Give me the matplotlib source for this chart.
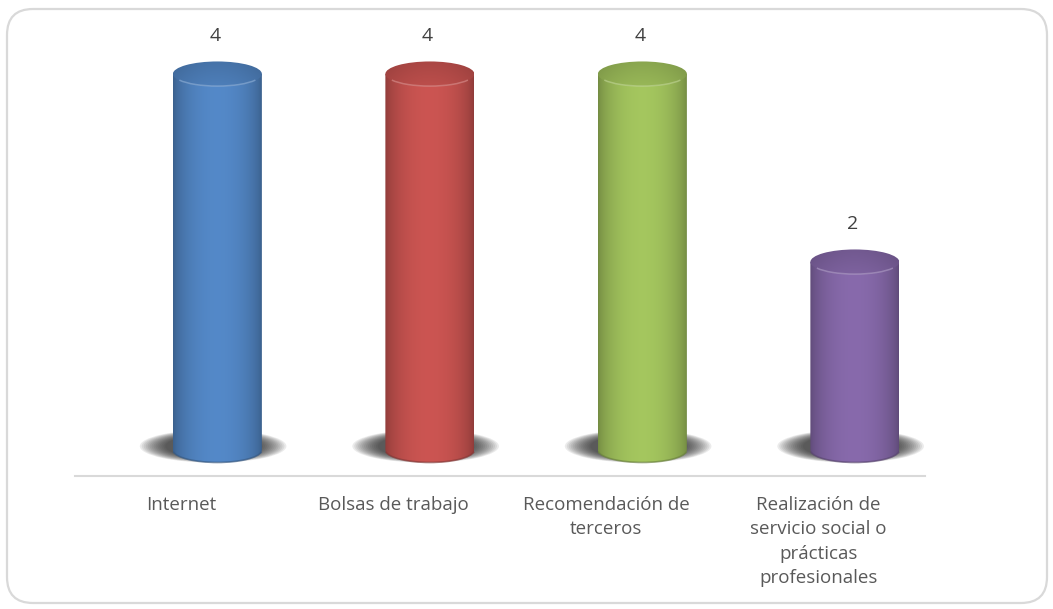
import numpy as np
import matplotlib.pyplot as plt
import matplotlib.colors as mcolors
from matplotlib.patches import Ellipse, PathPatch, FancyBboxPatch, Arc
from matplotlib.path import Path
from matplotlib.transforms import IdentityTransform

# chart data
categories = ["Internet", "Bolsas de trabajo", "Recomendación de\nterceros",
              "Realización de\nservicio social o\nprácticas\nprofesionales"]
values = [4, 4, 4, 2]
colors = ["#4f81bd", "#c0504d", "#9bbb59", "#8064a2"]

plt.rcParams['font.family'] = ['Open Sans', 'DejaVu Sans']

W, H = 1053, 609
fig = plt.figure(figsize=(W / 100, H / 100), dpi=100)
fig.patch.set_facecolor("white")

# rounded frame around the chart (pixel coords), kept behind the axes
frame = FancyBboxPatch((7, 6), 1040, 594, boxstyle="round,pad=0,rounding_size=26",
                       transform=IdentityTransform(), facecolor="none",
                       edgecolor="#d9d9d9", linewidth=1.6, zorder=-1)
fig.patches.append(frame)

ax = fig.add_axes([75 / W, (H - 476) / H, 850 / W, (476 - 20) / H])
ax.set_facecolor("none")
y0 = -0.277
ax.set_xlim(0, 4)
ax.set_ylim(y0, y0 + 456 / 94)

depth = 0.17   # 3d offset of the cylinders to the right of their slot
w = 0.2094     # half width of a cylinder
h = 0.133      # half height of the elliptic caps


def body_image(base, n=200):
    t = np.linspace(0, 1, n)
    rgb = np.array(mcolors.to_rgb(base))
    k = np.clip(1 - ((t - 0.5) / 0.5) ** 2, 0, 1) ** 0.7
    light = 0.74 + 0.32 * k
    cols = np.clip(rgb[None, :] * light[:, None], 0, 1)
    return cols[None, :, :]


def top_image(base, nx=200, ny=60):
    t = np.linspace(0, 1, nx)
    s = np.linspace(0, 1, ny)   # 0 = front (bottom), 1 = back
    rgb = np.array(mcolors.to_rgb(base))
    k = np.clip(1 - ((t - 0.5) / 0.5) ** 2, 0, 1)
    light = (0.86 + 0.1 * k)[None, :] * (1.02 - 0.1 * s)[:, None]
    return np.clip(rgb[None, None, :] * light[:, :, None], 0, 1)


for i, (v, c) in enumerate(zip(values, colors)):
    xc = i + 0.5 + depth

    # soft shadow on the floor
    for j in range(14):
        f = j / 13
        ax.add_patch(Ellipse((xc - 0.02, 0.04), 2 * (0.345 - 0.12 * f), 2 * (0.175 - 0.05 * f),
                             facecolor="#202020", edgecolor="none", alpha=0.085, zorder=1))

    # body: rectangle plus the front half of the bottom ellipse
    ang = np.linspace(np.pi, 2 * np.pi, 60)
    verts = [(xc + w * np.cos(a), h * np.sin(a)) for a in ang]
    verts += [(xc + w, v), (xc - w, v), verts[0]]
    codes = [Path.MOVETO] + [Path.LINETO] * (len(verts) - 2) + [Path.CLOSEPOLY]
    body = PathPatch(Path(verts, codes), facecolor="none", edgecolor="none", zorder=3)
    ax.add_patch(body)
    im = ax.imshow(body_image(c), extent=[xc - w, xc + w, -h, v], aspect="auto",
                   origin="lower", interpolation="bilinear", zorder=3)
    im.set_clip_path(body)
    dark = tuple(0.7 * np.array(mcolors.to_rgb(c)))
    ax.add_patch(Arc((xc, 0), 2 * w, 2 * h, theta1=185, theta2=355,
                     color=dark, lw=1.2, alpha=0.7, zorder=4))

    # top cap
    cap = Ellipse((xc, v), 2 * w, 2 * h, facecolor="none", edgecolor="none", zorder=4)
    ax.add_patch(cap)
    im2 = ax.imshow(top_image(c), extent=[xc - w, xc + w, v - h, v + h], aspect="auto",
                    origin="lower", interpolation="bilinear", zorder=4)
    im2.set_clip_path(cap)
    rim = tuple(0.65 * np.array(mcolors.to_rgb(c)) + 0.35)
    ax.add_patch(Arc((xc, v), 2 * w * 0.99, 2 * h * 0.97, theta1=200, theta2=340,
                     color=rim, lw=1.1, alpha=0.65, zorder=5))

    ax.text(xc - 0.012, v + 0.4, str(v), ha="center", va="center",
            fontsize=14, color="#404040", zorder=6)

    ax.annotate(categories[i], xy=(i + 0.5, 0), xycoords=("data", "axes fraction"),
                xytext=(0, -14.5), textcoords="offset points", ha="center", va="top",
                fontsize=13.5, color="#595959", linespacing=1.45)

ax.set_xticks([])
ax.set_yticks([])
for side in ["top", "right", "left"]:
    ax.spines[side].set_visible(False)
ax.spines["bottom"].set_color("#d9d9d9")
ax.spines["bottom"].set_linewidth(1.5)

fig.savefig("out.png", dpi=100)
